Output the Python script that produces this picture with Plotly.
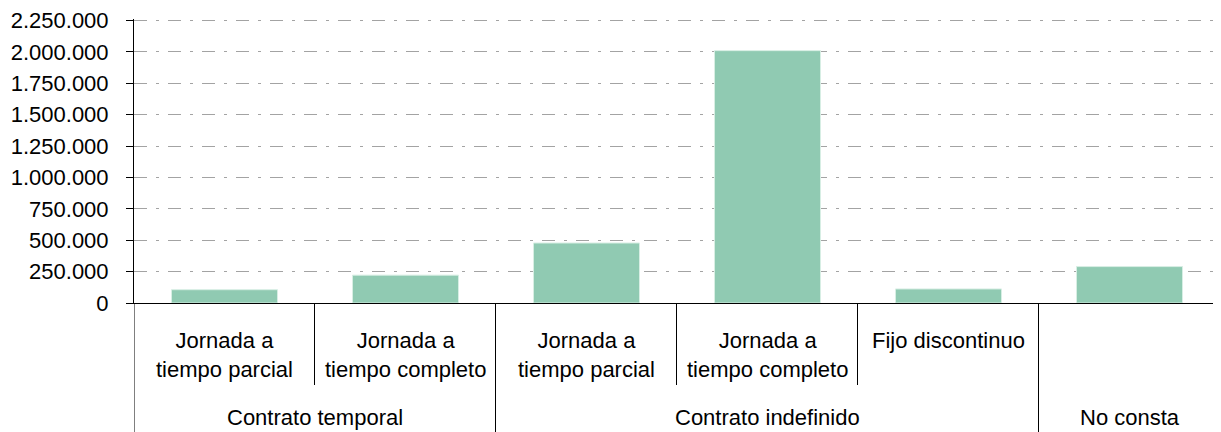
import plotly.graph_objects as go

# ---- data ----
grupos = ["Contrato temporal", "Contrato temporal", "Contrato indefinido",
          "Contrato indefinido", "Contrato indefinido", "No consta"]
subtipos = ["Jornada a<br>tiempo parcial", "Jornada a<br>tiempo completo",
            "Jornada a<br>tiempo parcial", "Jornada a<br>tiempo completo",
            "Fijo discontinuo", ""]
valores = [106000, 222000, 478000, 2010000, 112000, 290000]
y_ticks = [0, 250000, 500000, 750000, 1000000, 1250000, 1500000, 1750000, 2000000, 2250000]

claves = [f"{g} | {s}" for g, s in zip(grupos, subtipos)]

FONT = "Liberation Sans, Arial, sans-serif"
H_PLOT = 284.0  # plot area height in px
CAT_W = 181.0   # approx category width in px (for half-pixel crisp shift)

def py(px_from_axis):
    """paper y for a pixel distance below the x axis"""
    return -px_from_axis / H_PLOT

fig = go.Figure(go.Bar(
    x=claves, y=valores,
    marker=dict(color="#90cab2", line=dict(color="#d8eee4", width=1)),
))

shapes = []
annotations = []
n = len(claves)
# separators
for i in range(n + 1):
    xb = i - 0.5
    shift = 0 if i == 0 else -0.5 / CAT_W
    if i == 0 or i == n or grupos[i] != grupos[i - 1]:
        y1 = py(140)
    else:
        y1 = py(82)
    shapes.append(dict(type="line", xref="x", yref="paper", x0=xb, x1=xb,
                       x0shift=shift, x1shift=shift,
                       y0=0, y1=y1, line=dict(color="black", width=1)))

# sub labels
for i, s in enumerate(subtipos):
    if s:
        annotations.append(dict(x=i, xref="x", yref="paper", y=py(23), yanchor="top",
                                text=s, showarrow=False,
                                font=dict(family=FONT, size=22, color="black")))

# group labels
seen = []
for g in grupos:
    if g not in seen:
        seen.append(g)
for g in seen:
    idx = [i for i, gg in enumerate(grupos) if gg == g]
    xc = (idx[0] + idx[-1]) / 2
    annotations.append(dict(x=xc, xref="x", yref="paper", y=py(100), yanchor="top",
                            text=g, showarrow=False,
                            font=dict(family=FONT, size=22, color="black")))

# page body has an 8px margin: compensate so the plot area lands where the reference has it
fig.update_layout(
    width=1213, height=424,
    margin=dict(l=126, r=1, t=11, b=129),
    paper_bgcolor="white", plot_bgcolor="white",
    separators=",.",
    bargap=0.414,
    showlegend=False,
    font=dict(family=FONT, size=22, color="black"),
    shapes=shapes,
    annotations=annotations,
)
fig.update_xaxes(
    type="category", range=[-0.5, n - 0.5],
    showticklabels=False, ticks="", showgrid=False,
    showline=True, linecolor="black", linewidth=1,
    zeroline=False, fixedrange=True,
)
fig.update_yaxes(
    range=[0, 2262000], tickvals=y_ticks, tickformat=",d",
    ticks="outside", ticklen=7, tickcolor="black", tickwidth=1,
    showline=True, linecolor="black", linewidth=1,
    showgrid=True, gridcolor="#a3a3a3", gridwidth=1.4,
    griddash="13px,9px,3px,9px",
    zeroline=False, ticklabelstandoff=13,
    tickfont=dict(family=FONT, size=22, color="black"),
    fixedrange=True,
)

fig.write_html("out.html")
